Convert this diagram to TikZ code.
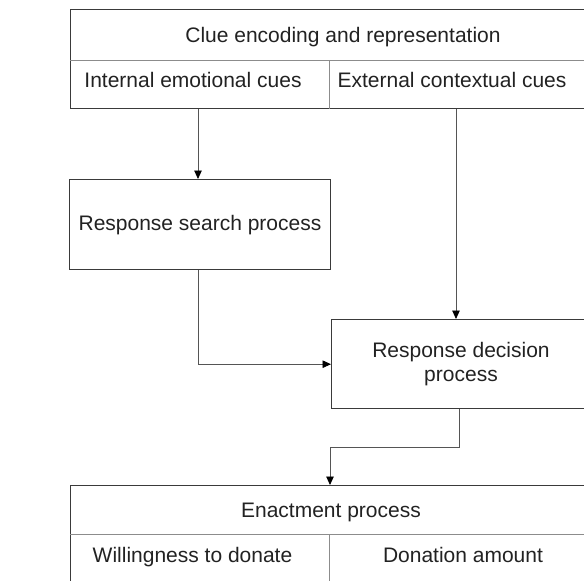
\documentclass[tikz,border=0pt]{standalone}
\usepackage{fontspec}
\setmainfont{Liberation Sans}
\usetikzlibrary{arrows.meta}
\definecolor{framecol}{HTML}{3A3A3A}
\definecolor{divcol}{HTML}{8C8C8C}
\definecolor{conncol}{HTML}{555555}
\definecolor{textcol}{HTML}{222222}
\begin{document}
\begin{tikzpicture}[x=1pt,y=-1pt,
  frame/.style={draw=framecol, line width=1.4pt, inner sep=0pt, anchor=north west},
  divider/.style={draw=divcol, line width=0.9pt},
  conn/.style={draw=conncol, line width=0.9pt, -{Triangle[length=8.5pt,width=7.5pt,color=black]}},
  lbl/.style={text=textcol, font=\fontsize{21}{24}\selectfont, inner sep=0pt, align=center}]
\useasboundingbox (0,0) rectangle (584,581);
\clip (0,0) rectangle (584,581);
% frames
\node[frame, minimum width=522pt, minimum height=99pt] (topframe) at (70,9) {};
\node[frame, minimum width=261.5pt, minimum height=90pt] (search) at (68.5,179) {};
\node[frame, minimum width=269pt, minimum height=89pt] (decision) at (331,319) {};
\node[frame, minimum width=522pt, minimum height=130pt] (enact) at (70,485) {};
% dividers
\draw[divider] (topframe.west |- 0,60) -- (topframe.east |- 0,60);
\draw[divider] (329,60) -- (topframe.south -| 329,0);
\draw[divider] (enact.west |- 0,534) -- (enact.east |- 0,534);
\draw[divider] (329,534) -- (329,620);
% labels
\node[lbl, anchor=base] (clue) at (343,42) {Clue encoding and representation};
\node[lbl, anchor=base] (internal) at (193,87) {Internal emotional cues};
\node[lbl, anchor=base] (external) at (452,87) {External contextual cues};
\node[lbl, anchor=base] (searchtxt) at (200,230) {Response search process};
\node[lbl, anchor=center] (decisiontxt) at (461,364.5) {Response decision\\process};
\node[lbl, anchor=base] (enacttxt) at (331,517) {Enactment process};
\node[lbl, anchor=base] (willing) at (192.5,562) {Willingness to donate};
\node[lbl, anchor=base] (amount) at (463,562) {Donation amount};
% connectors
\coordinate (c1) at (198,0);
\coordinate (c2) at (456,0);
\coordinate (c3) at (459,0);
\coordinate (c4) at (330,0);
\draw[conn] (topframe.south -| c1) -- (search.north -| c1);
\draw[conn] (topframe.south -| c2) -- (decision.north -| c2);
\draw[conn] (search.south -| c1) |- (decision.west);
\draw[conn] (decision.south -| c3) -- (c3 |- 0,447) -| (enact.north -| c4);
\end{tikzpicture}
\end{document}
